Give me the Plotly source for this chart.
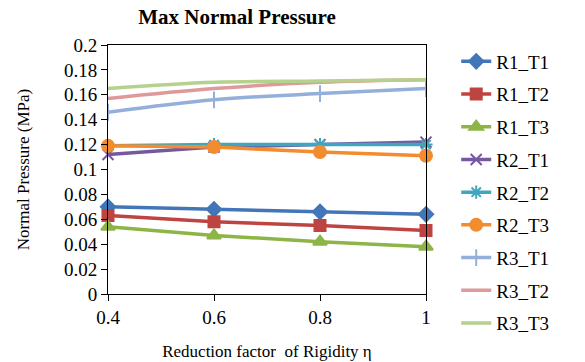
import plotly.graph_objects as go

eta = [0.4, 0.6, 0.8, 1.0]

R1_T1 = [0.070, 0.068, 0.066, 0.064]
R1_T2 = [0.063, 0.058, 0.055, 0.051]
R1_T3 = [0.054, 0.047, 0.042, 0.038]
R2_T1 = [0.112, 0.118, 0.120, 0.122]
R2_T2 = [0.119, 0.120, 0.120, 0.120]
R2_T3 = [0.119, 0.118, 0.114, 0.111]
R3_T1 = [0.146, 0.156, 0.161, 0.165]
R3_T2 = [0.157, 0.165, 0.170, 0.172]
R3_T3 = [0.165, 0.170, 0.171, 0.172]

series_names = ["R1_T1", "R1_T2", "R1_T3", "R2_T1", "R2_T2", "R2_T3",
                "R3_T1", "R3_T2", "R3_T3"]
series_values = [R1_T1, R1_T2, R1_T3, R2_T1, R2_T2, R2_T3, R3_T1, R3_T2, R3_T3]

y_tickvals = [0, 0.02, 0.04, 0.06, 0.08, 0.1, 0.12, 0.14, 0.16, 0.18, 0.2]
y_ticktext = ["0", "0.02", "0.04", "0.06", "0.08", "0.1", "0.12", "0.14",
              "0.16", "0.18", "0.2"]
x_tickvals = [0.4, 0.6, 0.8, 1.0]
x_ticktext = ["0.4", "0.6", "0.8", "1"]

styles = [
    dict(color="#4276B8", symbol="diamond", size=11, shape="linear"),
    dict(color="#BE4441", symbol="square", size=11, shape="linear"),
    dict(color="#8DB447", symbol="triangle-up", size=12, shape="linear"),
    dict(color="#7558A0", symbol="x-thin", size=11, shape="linear"),
    dict(color="#3FA6C0", symbol="asterisk", size=11, shape="linear"),
    dict(color="#F28C2E", symbol="circle", size=12, shape="linear"),
    dict(color="#94AFDA", symbol="line-ns", size=12, shape="spline"),
    dict(color="#DE9A9A", symbol=None, size=0, shape="spline"),
    dict(color="#B5D18E", symbol=None, size=0, shape="spline"),
]

fig = go.Figure()
for name, vals, st in zip(series_names, series_values, styles):
    if st["symbol"] is None:
        mode = "lines"
        marker = None
    else:
        mode = "lines+markers"
        marker = dict(symbol=st["symbol"], size=st["size"], color=st["color"],
                      line=dict(color=st["color"], width=2))
    fig.add_trace(go.Scatter(
        x=eta, y=vals, name=name, mode=mode, marker=marker,
        line=dict(color=st["color"], width=3.5, shape=st["shape"]),
        legendgroup=name, cliponaxis=False,
    ))

serif = "Liberation Serif"

fig.update_layout(
    width=585, height=362,
    margin=dict(l=108, r=159, t=45, b=68),
    paper_bgcolor="white", plot_bgcolor="white",
    font=dict(family=serif, color="black", size=18),
    title=dict(text="<b>Max Normal Pressure</b>", x=237 / 585, xanchor="center",
               y=1 - 17 / 362, yanchor="middle",
               font=dict(family=serif, size=21, color="black")),
    legend=dict(x=1.095, xanchor="left", y=1.01, yanchor="top",
                font=dict(family=serif, size=19, color="black"),
                tracegroupgap=5, itemwidth=30, bgcolor="rgba(0,0,0,0)",
                maxheight=350),
    showlegend=True,
)
fig.update_xaxes(
    range=[0.4, 1.0], tickvals=x_tickvals, ticktext=x_ticktext,
    showgrid=False, zeroline=False, showline=True, linecolor="black",
    linewidth=1, mirror=True, ticks="outside", ticklen=6, tickcolor="black",
    tickfont=dict(family=serif, size=19), automargin=False,
    title=dict(text="Reduction factor  of Rigidity η", standoff=18,
               font=dict(family=serif, size=17)),
)
fig.update_yaxes(
    range=[0, 0.2], tickvals=y_tickvals, ticktext=y_ticktext,
    showgrid=False, zeroline=False, showline=True, linecolor="black",
    linewidth=1, mirror=True, ticks="outside", ticklen=6, tickcolor="black",
    tickfont=dict(family=serif, size=19), automargin=False,
    title=dict(text="Normal Pressure (MPa)", standoff=30,
               font=dict(family=serif, size=17)),
)

fig.write_html("out.html", config={"displayModeBar": False},
               post_script="document.body.style.margin='0';document.body.style.padding='0';")
